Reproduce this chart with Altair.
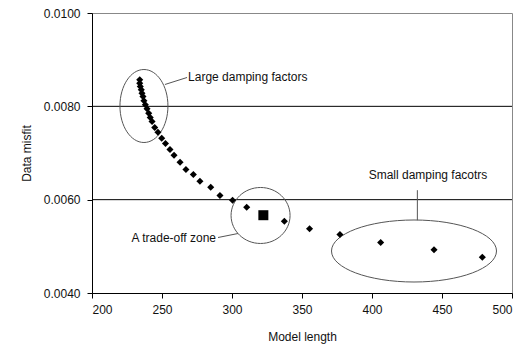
import altair as alt
import pandas as pd

# Data
model_length = [234.1, 234.1, 234.5, 235.2, 235.7, 236.4, 237.1, 238.1, 239.3, 240.5,
                241.6, 242.9, 244.8, 247.1, 249.8, 252.5, 255.7, 258.6, 262.9, 267.1,
                272.4, 277.1, 284.8, 291.4, 300.4, 310.5, 337.4, 355.4, 377.1, 406.2,
                444.3, 478.8]
data_misfit = [0.008569, 0.008496, 0.008425, 0.008354, 0.008281, 0.008211, 0.008119,
               0.008033, 0.007947, 0.007853, 0.007761, 0.007675, 0.007546, 0.007446,
               0.007317, 0.007204, 0.007075, 0.006953, 0.006803, 0.006646, 0.006539,
               0.006396, 0.006267, 0.006089, 0.005986, 0.005839, 0.005539, 0.005378,
               0.005254, 0.005082, 0.004926, 0.004767]
chosen_x = [322.4]
chosen_y = [0.005667]
grid_values = [0.006, 0.008]

label_texts = ["Large damping factors", "A trade-off zone", "Small damping facotrs"]
label_x = [268.6, 288.6, 440.0]
label_y = [0.008639, 0.005189, 0.006539]

ell_x = [237.1, 320.4, 430.0]
ell_y = [0.008007, 0.005661, 0.004900]

lead_x1 = [252.1, 290.0, 432.4]
lead_x2 = [267.9, 304.3, 432.4]
lead_y1 = [0.008468, 0.005189, 0.006203]
lead_y2 = [0.008618, 0.005275, 0.005560]

FONT = "Liberation Sans"

pts = pd.DataFrame({"x": model_length, "y": data_misfit})
sq = pd.DataFrame({"x": chosen_x, "y": chosen_y})
grid = pd.DataFrame({"y": grid_values})
labels = pd.DataFrame({"t": label_texts, "x": label_x, "y": label_y})
ells = pd.DataFrame({"x": ell_x, "y": ell_y})
leads = pd.DataFrame({"x": lead_x1, "x2": lead_x2, "y": lead_y1, "y2": lead_y2})

xscale = alt.Scale(domain=[200, 500], nice=False, zero=False)
yscale = alt.Scale(domain=[0.004, 0.010], nice=False, zero=False)

xaxis = alt.Axis(title="Model length", values=[200, 250, 300, 350, 400, 450, 500],
                 format="d", grid=False, domainColor="black", tickColor="black",
                 tickSize=5, labelPadding=6, titlePadding=16,
                 labelFont=FONT, titleFont=FONT, labelFontSize=12, titleFontSize=12,
                 titleFontWeight="normal", labelColor="#111", titleColor="#111")
yaxis = alt.Axis(title="Data misfit", values=[0.004, 0.006, 0.008, 0.010],
                 format=".4f", grid=False, domainColor="black", tickColor="black",
                 tickSize=5, labelPadding=7, titlePadding=10,
                 labelFont=FONT, titleFont=FONT, labelFontSize=12, titleFontSize=12,
                 titleFontWeight="normal", labelColor="#111", titleColor="#111")

gridlayer = alt.Chart(grid).mark_rule(color="black", strokeWidth=1).encode(
    y=alt.Y("y:Q", scale=yscale, axis=yaxis))

points = alt.Chart(pts).mark_point(shape="diamond", filled=True, color="black",
                                   size=50, opacity=1).encode(
    x=alt.X("x:Q", scale=xscale, axis=xaxis),
    y=alt.Y("y:Q", scale=yscale))

square = alt.Chart(sq).mark_point(shape="square", filled=True, color="black",
                                  size=100, opacity=1).encode(
    x=alt.X("x:Q", scale=xscale), y=alt.Y("y:Q", scale=yscale))

def ellipse_layer(i, ratio_w, ratio_h, half):
    path = (f"M -{ratio_w} 0 A {ratio_w} {ratio_h} 0 1 1 {ratio_w} 0 "
            f"A {ratio_w} {ratio_h} 0 1 1 -{ratio_w} 0 Z")
    return alt.Chart(ells.iloc[[i]]).mark_point(
        shape=path, filled=False, stroke="#555", strokeWidth=1, opacity=1,
        size=(2 * half) ** 2).encode(
        x=alt.X("x:Q", scale=xscale), y=alt.Y("y:Q", scale=yscale))

e1 = ellipse_layer(0, 0.6575, 1, 36.5)
e2 = ellipse_layer(1, 1, 0.949, 29.5)
e3 = ellipse_layer(2, 1, 0.3758, 82.5)

leaders = alt.Chart(leads).mark_rule(color="#555", strokeWidth=1).encode(
    x=alt.X("x:Q", scale=xscale), x2="x2:Q",
    y=alt.Y("y:Q", scale=yscale), y2="y2:Q")

t1 = alt.Chart(labels.iloc[[0]]).mark_text(align="left", baseline="middle", font=FONT,
                                           fontSize=12, color="#111").encode(
    x=alt.X("x:Q", scale=xscale), y=alt.Y("y:Q", scale=yscale), text="t:N")
t2 = alt.Chart(labels.iloc[[1]]).mark_text(align="right", baseline="middle", font=FONT,
                                           fontSize=12, color="#111").encode(
    x=alt.X("x:Q", scale=xscale), y=alt.Y("y:Q", scale=yscale), text="t:N")
t3 = alt.Chart(labels.iloc[[2]]).mark_text(align="center", baseline="middle", font=FONT,
                                           fontSize=12, color="#111").encode(
    x=alt.X("x:Q", scale=xscale), y=alt.Y("y:Q", scale=yscale), text="t:N")

chart = alt.layer(gridlayer, e1, e2, e3, leaders, points, square, t1, t2, t3).properties(
    width=420, height=280,
    autosize=alt.AutoSizeParams(type="none"),
    padding={"left": 92, "top": 13, "right": 20, "bottom": 57},
    background="white",
).configure_view(stroke="#888", strokeWidth=1)

chart.save("out.html", embed_options={"renderer": "svg", "actions": False})
